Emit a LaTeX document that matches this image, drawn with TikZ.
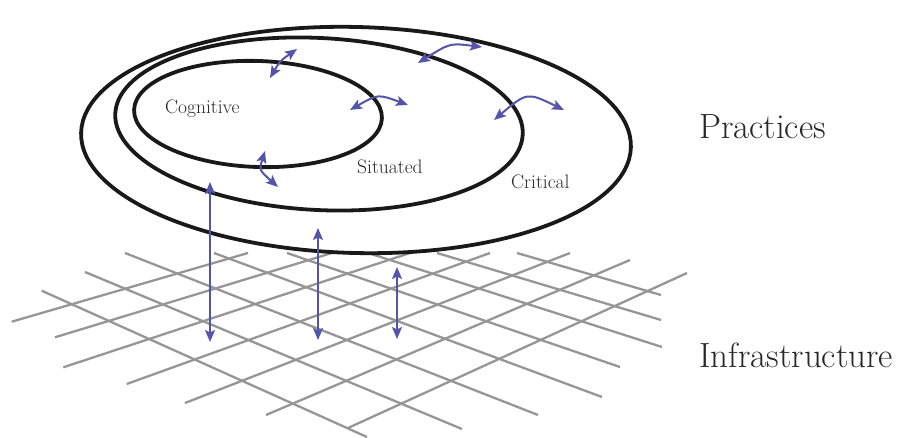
\documentclass[tikz,border=0pt]{standalone}
\usepackage{fontspec}
\usetikzlibrary{arrows.meta}
\definecolor{arrowblue}{RGB}{84,84,168}
\definecolor{gridgray}{RGB}{150,150,150}
\definecolor{ringblack}{RGB}{25,25,25}
\definecolor{labelgray}{RGB}{40,40,40}
\begin{document}
\begin{tikzpicture}[x=1pt,y=-1pt,
  gridline/.style={draw=gridgray,line width=2.3pt},
  ring/.style={draw=ringblack,line width=3.8pt},
  link/.style={draw=arrowblue,line width=2pt,
    {Stealth[length=12pt,width=10pt,inset=2.5pt]}-{Stealth[length=12pt,width=10pt,inset=2.5pt]}},
  small/.style={font=\fontsize{19.5}{22}\selectfont,text=labelgray,inner sep=0pt,anchor=base west},
  big/.style={font=\fontsize{35}{40}\selectfont,text=labelgray,inner sep=0pt,anchor=base west}]
\useasboundingbox (0,0) rectangle (900,438);

% grid (perspective)
\foreach \xa/\ya/\xb/\yb in {
  41.7/290.7/367/437, 85/272/462/429, 125/253/538/415, 214/253/602/397,
  287/253/620/367, 368/253/662/347, 437/253/661/320, 517/253/661/295,
  11.7/321.7/248/253, 55/337.3/332/253, 63.3/367.3/410/253, 126.7/384/490/253,
  185/403/570/253, 266/415/630/260, 348/428/687/273}
  \draw[gridline] (\xa,\ya) -- (\xb,\yb);

% rings
\draw[ring, rotate around={-1.5:(356,140)}] (356,140) ellipse [x radius=275pt, y radius=113pt];
\draw[ring, rotate around={-3:(319,124)}] (319,124) ellipse [x radius=204pt, y radius=86pt];
\draw[ring, rotate around={-2:(258,114)}] (258,114) ellipse [x radius=124pt, y radius=53pt];

% labels
\node[small] (cog) at (165,114) {Cognitive};
\node[small] (sit) at (357,174) {Situated};
\node[small] (cri) at (511,189) {Critical};
\node[big] (pra) at (699,139) {Practices};
\node[big] (inf) at (699,367) {Infrastructure};

% vertical arrows
\coordinate (v1t) at (210,182); \coordinate (v1b) at (210,342);
\coordinate (v2t) at (318,228); \coordinate (v2b) at (318,340);
\coordinate (v3t) at (397,267); \coordinate (v3b) at (397,339);
\draw[link] (v1b) -- (v1t);
\draw[link] (v2b) -- (v2t);
\draw[link] (v3b) -- (v3t);

% curved arrows across ring borders
\coordinate (c1a) at (270,78);  \coordinate (c1c) at (280,61);   \coordinate (c1b) at (297,49);
\coordinate (c2a) at (350,110); \coordinate (c2c) at (378,94);   \coordinate (c2b) at (408,105);
\coordinate (c3a) at (418,63);  \coordinate (c3c) at (450,43);   \coordinate (c3b) at (482,47);
\coordinate (c4a) at (494,120); \coordinate (c4c) at (527,92);   \coordinate (c4b) at (564,110);
\coordinate (c5a) at (265,151); \coordinate (c5c) at (259,170);  \coordinate (c5b) at (278,187);
\draw[link] (c1a) .. controls (c1c) .. (c1b);
\draw[link] (c2a) .. controls (c2c) .. (c2b);
\draw[link] (c3a) .. controls (c3c) .. (c3b);
\draw[link] (c4a) .. controls (c4c) .. (c4b);
\draw[link] (c5a) .. controls (c5c) .. (c5b);
\end{tikzpicture}
\end{document}
